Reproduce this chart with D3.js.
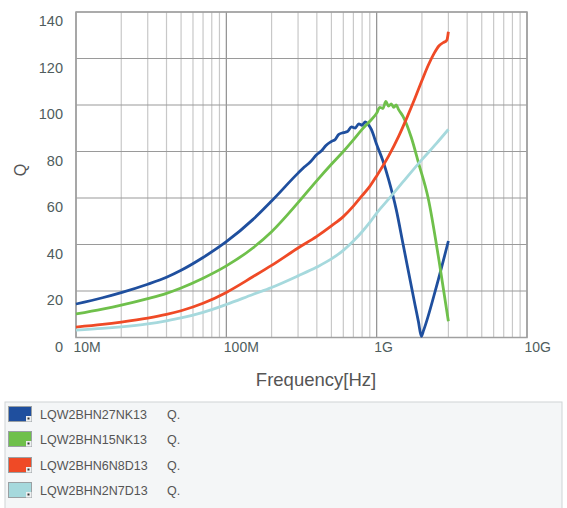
<!DOCTYPE html>
<html><head><meta charset="utf-8">
<script src="https://cdn.jsdelivr.net/npm/d3@7"></script>
<style>
body{margin:0;background:#fff;}
svg{display:block;font-family:"Liberation Sans",Arial,sans-serif;}
</style></head>
<body><svg id="c" width="567" height="508"></svg>
<script>
// ---- data ----
const seriesNames = ["LQW2BHN27NK13","LQW2BHN15NK13","LQW2BHN6N8D13","LQW2BHN2N7D13"];
const seriesSuffix = "Q.";
const seriesColors = ["#1f4f9e","#6fc04b","#ef4a26","#a6d9dd"];
const xTickValues = [1e7,1e8,1e9,1e10];
const xTickLabels = ["10M","100M","1G","10G"];
const yTickValues = [0,20,40,60,80,100,120,140];

const freqBlue = [1e7,1.5e7,2e7,3e7,4e7,5e7,7e7,1e8,1.5e8,2e8,3e8,3.3e8,3.6e8,4e8,4.3e8,4.6e8,5e8,5.3e8,5.6e8,6e8,6.4e8,6.8e8,7.2e8,7.6e8,8e8,8.4e8,8.8e8,9.2e8,1e9,1.1e9,1.2e9,1.35e9,1.5e9,1.8e9,1.9e9,1.98e9,2.05e9,2.5e9,3e9];
const qBlue    = [14.4,17.1,19.3,22.9,25.9,28.9,34.4,41.2,50.7,58.7,70.7,73.3,75.4,78.7,80.3,82.6,84.3,85.2,87.4,88.1,88.6,90.6,90.1,91.9,91.3,92.7,91.6,89.6,83,76,68,55,40,14,6.5,0.5,3,22,41.5];

const freqGreen = [1e7,1.5e7,2e7,3e7,4e7,5e7,7e7,1e8,1.5e8,2e8,3e8,4e8,5e8,6e8,7e8,8e8,9e8,1e9,1.05e9,1.1e9,1.15e9,1.2e9,1.25e9,1.3e9,1.35e9,1.4e9,1.5e9,1.7e9,1.9e9,2.2e9,2.6e9,3e9];
const qGreen    = [10.1,12.2,13.9,16.7,19.0,21.3,25.5,30.8,38.5,45.5,58,67.5,74.5,80,85,89.5,93,96.5,99,98.5,101.5,99.5,100.5,99,100,98,95,86,75,60,33,7];

const freqRed = [1e7,1.5e7,2e7,3e7,4e7,5e7,7e7,1e8,1.5e8,2e8,3e8,4e8,5e8,6e8,7e8,8e8,9e8,1e9,1.2e9,1.4e9,1.6e9,1.8e9,2e9,2.2e9,2.4e9,2.6e9,2.8e9,2.9e9,2.95e9,3e9];
const qRed    = [4.5,5.6,6.6,8.3,9.9,11.5,14.7,19.4,26.1,31.0,38.5,43.5,48,52,56.5,61,65,69.5,78,86.5,95,103,110.5,117,122,125.5,127,127.5,128.5,131.5];

const freqCyan = [1e7,1.5e7,2e7,3e7,4e7,5e7,7e7,1e8,1.5e8,2e8,3e8,4e8,5e8,6e8,7e8,8e8,9e8,1e9,1.2e9,1.5e9,2e9,2.5e9,3e9];
const qCyan    = [3.2,3.9,4.6,5.9,7.2,8.4,10.8,14.2,18.5,21.5,26.5,30.3,33.8,37.5,41.5,45.5,49.5,53.5,59.5,67,76.5,83.5,89.5];

const seriesFreqs = [freqBlue,freqGreen,freqRed,freqCyan];
const seriesQ = [qBlue,qGreen,qRed,qCyan];

// ---- chart ----
const svg = d3.select("#c");
const L=76,R=527,T=12,B=337.5;
const x = d3.scaleLog().domain([1e7,1e10]).range([L,R]);
const y = d3.scaleLinear().domain([0,140]).range([B,T]);
const isMajor = d=>xTickValues.some(v=>Math.abs(v-d)/v<1e-6);

// grid
const g = svg.append("g");
g.selectAll("line.v").data(x.ticks()).join("line")
  .attr("x1",d=>x(d)).attr("x2",d=>x(d)).attr("y1",T).attr("y2",B)
  .attr("stroke",d=>isMajor(d)?"#8f8f8f":"#c8c8c8").attr("stroke-width",1.2);
g.selectAll("line.h").data(yTickValues).join("line")
  .attr("x1",L).attr("x2",R).attr("y1",d=>y(d)).attr("y2",d=>y(d))
  .attr("stroke","#9a9a9a").attr("stroke-width",1.2);
g.append("rect").attr("x",L).attr("y",T).attr("width",R-L).attr("height",B-T)
  .attr("fill","none").attr("stroke","#a0a0a0").attr("stroke-width",1.5);

// lines
const line = d3.line().x(d=>x(d[0])).y(d=>y(d[1])).curve(d3.curveMonotoneX);
seriesQ.forEach((qs,i)=>{
  const pts = seriesFreqs[i].map((f,j)=>[f,qs[j]]);
  svg.append("path").datum(pts).attr("d",line)
    .attr("fill","none").attr("stroke",seriesColors[i]).attr("stroke-width",2.8)
    .attr("stroke-linejoin","round");
});

// axes
const yAxis = d3.axisLeft(y).tickValues(yTickValues).tickSize(0).tickPadding(13);
const ya = svg.append("g").attr("transform",`translate(${L},0)`).call(yAxis);
ya.select(".domain").remove();
ya.selectAll("text").attr("dy","0.95em").attr("fill","#4f5d5d")
  .style("font-size","14.5px").style("font-family","Liberation Sans, Arial, sans-serif");

const xAxis = d3.axisBottom(x).tickValues(xTickValues).tickFormat((d,i)=>xTickLabels[i]).tickSize(0).tickPadding(5);
const xa = svg.append("g").attr("transform",`translate(0,${B})`).call(xAxis);
xa.select(".domain").remove();
xa.selectAll("text").attr("text-anchor","start").attr("dx","-3").attr("fill","#4f5d5d")
  .style("font-size","14px").style("font-family","Liberation Sans, Arial, sans-serif");

svg.append("text").attr("x",316).attr("y",386).attr("text-anchor","middle")
  .attr("fill","#555").style("font-size","18.5px").text("Frequency[Hz]");
svg.append("text").attr("transform","translate(26,170) rotate(-90)").attr("text-anchor","middle")
  .attr("fill","#555").style("font-size","16px").text("Q");

// legend
const lg = svg.append("g");
lg.append("rect").attr("x",5).attr("y",402).attr("width",557).attr("height",110)
  .attr("fill","#f4f6f7").attr("stroke","#cfd4d6");
const rowY = [414,439,465,490];
seriesNames.forEach((n,i)=>{
  const yy=rowY[i];
  lg.append("rect").attr("x",8.5).attr("y",yy-7.5).attr("width",23).attr("height",15)
    .attr("fill",seriesColors[i]).attr("stroke","#9aa0a3").attr("stroke-width",1);
  lg.append("rect").attr("x",26).attr("y",yy+2).attr("width",5.5).attr("height",5.5).attr("fill","#eef0f1");
  lg.append("rect").attr("x",27.5).attr("y",yy+3.5).attr("width",2).attr("height",2).attr("fill","#333");
  lg.append("text").attr("x",40).attr("y",yy+4.5).attr("fill","#555").style("font-size","12.5px").text(n);
  lg.append("text").attr("x",167).attr("y",yy+4.5).attr("fill","#555").style("font-size","12.5px").text(seriesSuffix);
});
</script></body></html>
